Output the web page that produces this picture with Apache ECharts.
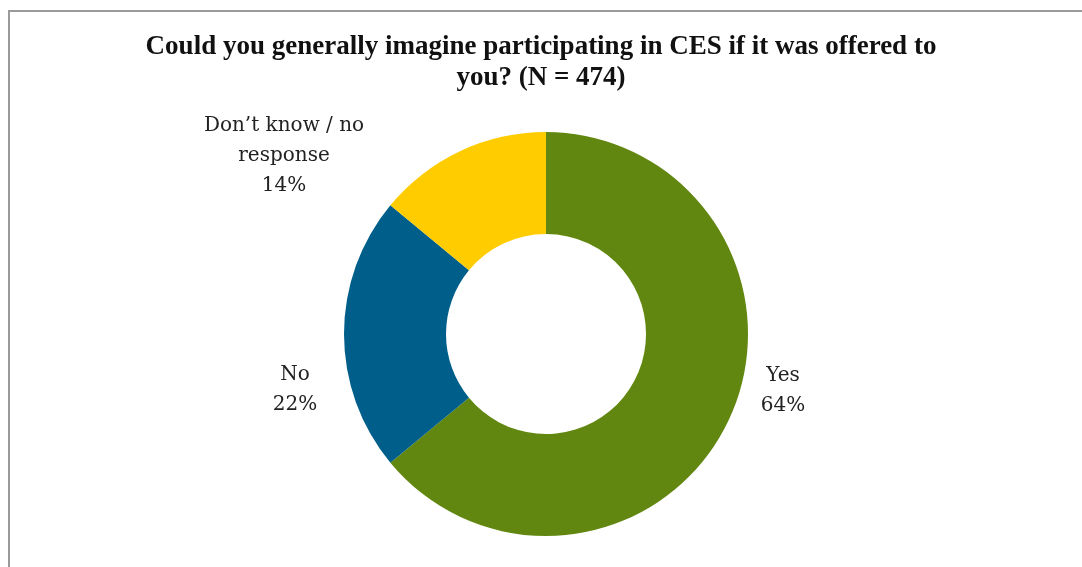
<!DOCTYPE html>
<html>
<head>
<meta charset="utf-8">
<script src="https://cdn.jsdelivr.net/npm/echarts@6/dist/echarts.min.js"></script>
<style>html,body{margin:0;padding:0;background:#fff;}#c{width:1082px;height:567px;}</style>
</head>
<body>
<div id="c"></div>
<script>
const categories = ["Yes", "No", "Don\u2019t know / no\nresponse"];
const values = [64, 22, 14];
const colors = ["#618710", "#005f8a", "#ffcc00"];
const titleText = "Could you generally imagine participating in CES if it was offered to\nyou? (N = 474)";

const labelPos = [[783, 391], [295, 390], [284, 156]];

const chart = echarts.init(document.getElementById('c'), null, {renderer: 'canvas'});
chart.setOption({
  animation: false,
  backgroundColor: '#fff',
  title: {
    text: titleText,
    left: 'center',
    top: 27,
    textStyle: {fontFamily: 'Liberation Serif', fontWeight: 'bold', fontSize: 27, lineHeight: 31, color: '#111'}
  },
  graphic: [{
    type: 'rect', silent: true,
    shape: {x: 9, y: 11, width: 1200, height: 700},
    style: {fill: 'none', stroke: '#9a9a9a', lineWidth: 2}
  }],
  series: [{
    type: 'pie',
    center: [546, 334],
    radius: [100, 202],
    startAngle: 90,
    clockwise: true,
    data: categories.map((c, i) => ({name: c, value: values[i], itemStyle: {color: colors[i]}})),
    label: {
      show: true,
      position: 'outside',
      formatter: p => p.name + '\n' + Math.round(p.percent) + '%',
      fontFamily: 'DejaVu Serif',
      fontSize: 20,
      lineHeight: 30,
      color: '#222',
      align: 'center'
    },
    labelLine: {show: false},
    labelLayout: p => ({x: labelPos[p.dataIndex][0], y: labelPos[p.dataIndex][1], align: 'center', verticalAlign: 'middle'})
  }]
});
</script>
</body>
</html>
